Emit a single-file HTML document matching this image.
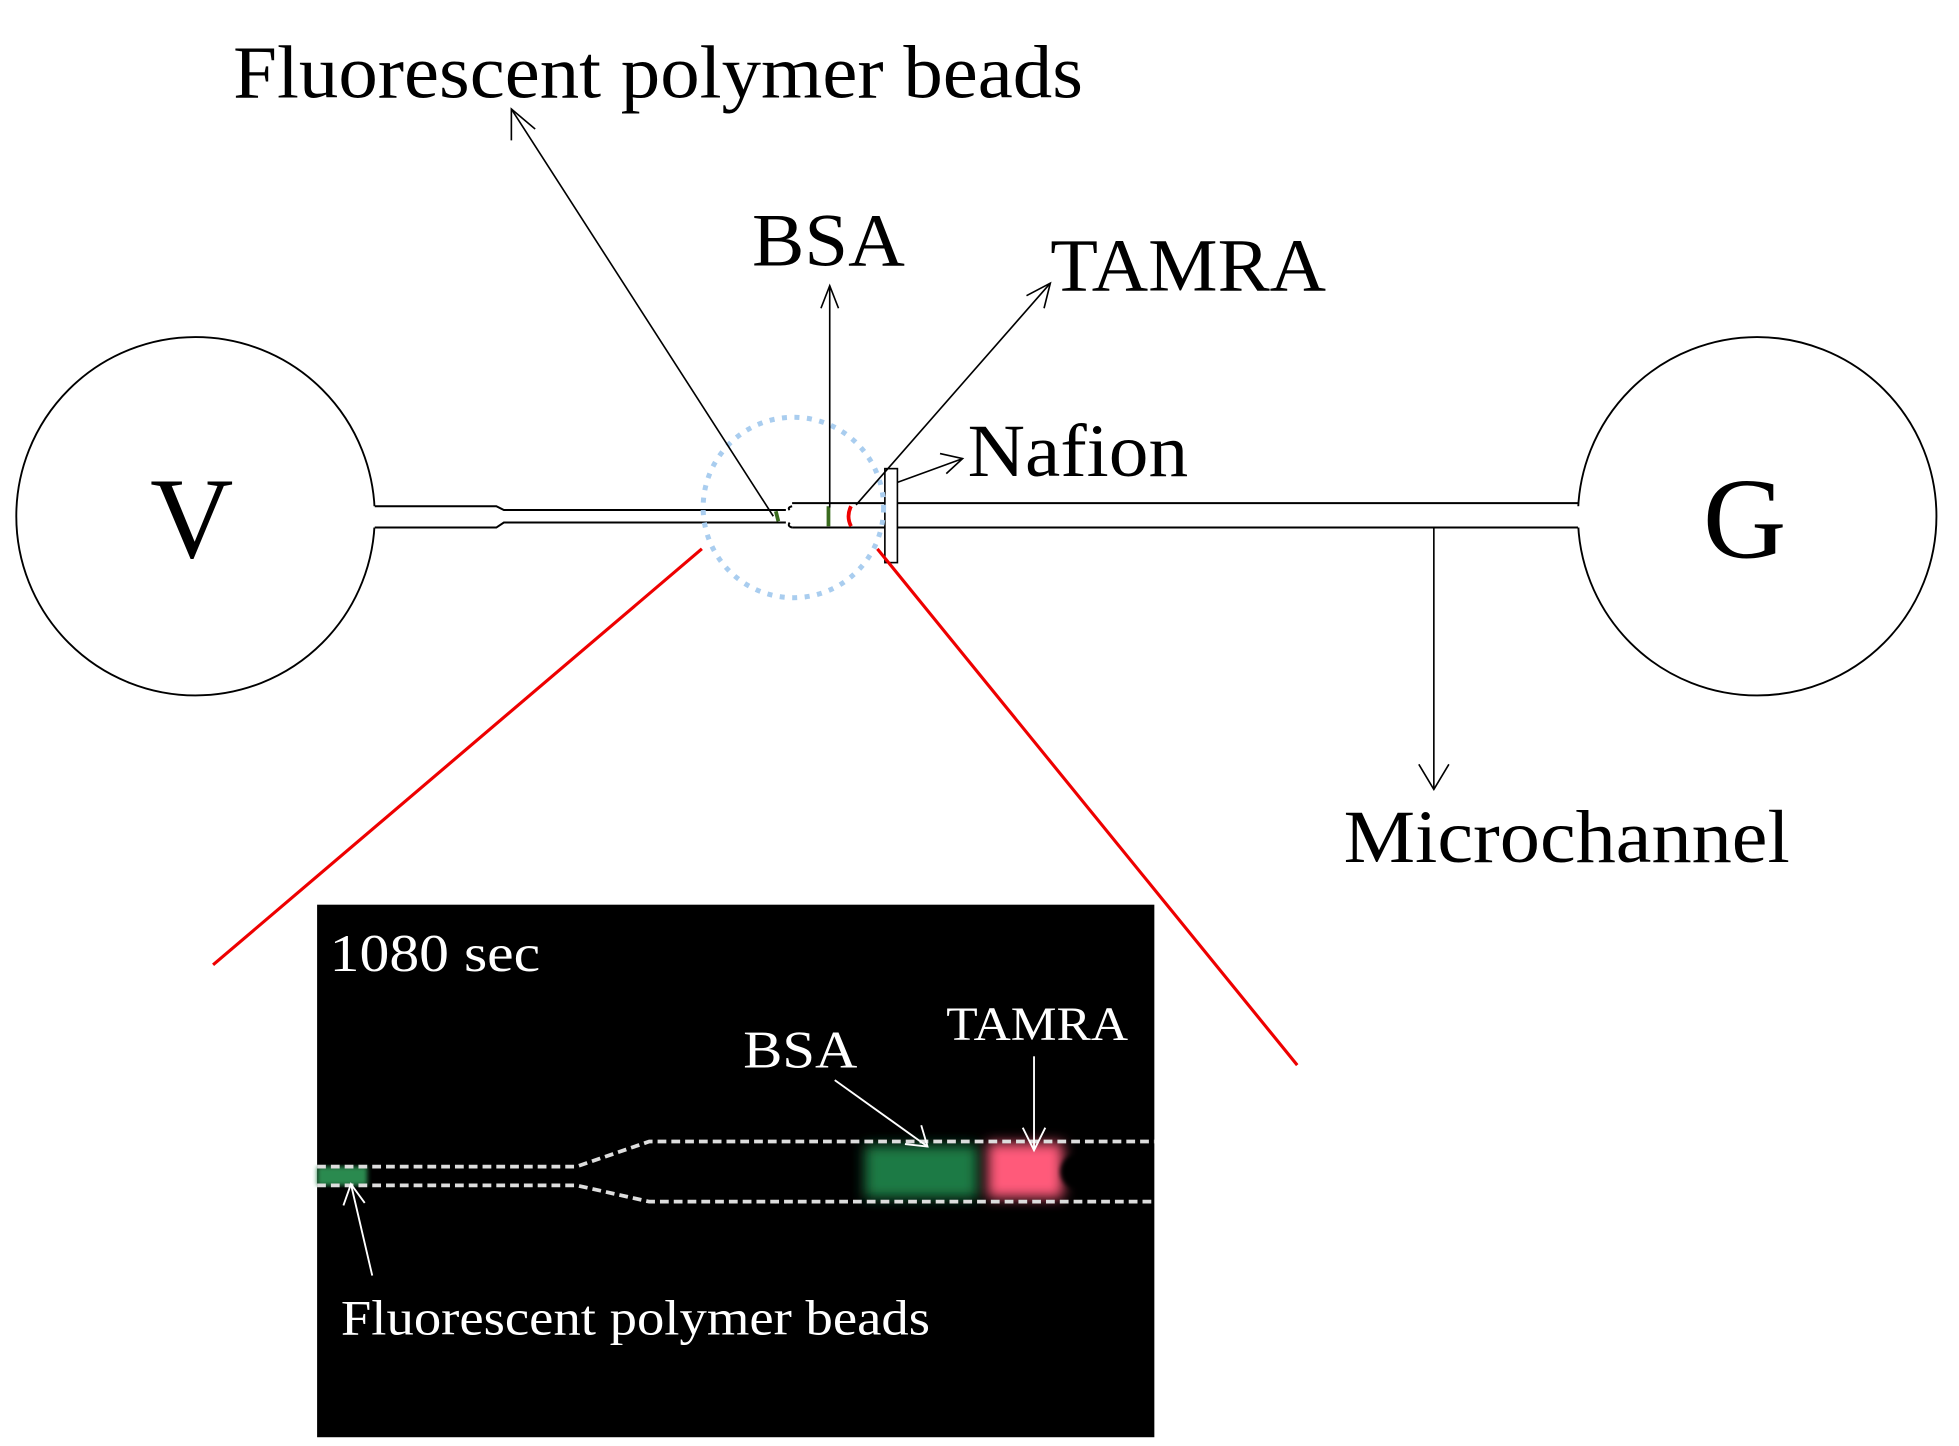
<!DOCTYPE html>
<html><head><meta charset="utf-8"><style>html,body{margin:0;padding:0;background:#fff}svg{display:block}</style></head>
<body>
<svg width="1959" height="1446" viewBox="0 0 1563 1154" preserveAspectRatio="none" xmlns="http://www.w3.org/2000/svg" font-family="Liberation Serif, serif">
<defs>
<filter id="bl" x="-50%" y="-50%" width="200%" height="200%"><feGaussianBlur stdDeviation="5"/></filter>
<filter id="bl2"><feGaussianBlur stdDeviation="2"/></filter>
</defs>
<rect width="1563" height="1154" fill="#fff"/>
<!-- circles -->
<circle cx="156" cy="412" r="143" fill="none" stroke="#000" stroke-width="1.5"/>
<circle cx="1402" cy="412" r="143" fill="none" stroke="#000" stroke-width="1.5"/>
<rect x="295" y="404" width="10" height="17" fill="#fff"/>
<rect x="1254" y="404" width="10" height="17" fill="#fff"/>
<text x="153" y="445" font-size="92" text-anchor="middle">V</text>
<text x="1392" y="445" font-size="92" text-anchor="middle">G</text>
<!-- channel -->
<g stroke="#000" stroke-width="1.6" fill="none">
<path d="M299 404 H396 L402 407 H627"/>
<path d="M299 421 H396 L402 417 H627"/>
<path d="M632 404 Q628 405 630 407"/>
<path d="M632 421 Q628 420 630 417"/>
<path d="M632 401.5 H1259"/>
<path d="M632 421 H1259"/>
<rect x="706" y="374" width="10" height="75" fill="#fff" stroke-width="1.3"/>
</g>
<line x1="619" y1="408" x2="621" y2="416" stroke="#3a6b1e" stroke-width="3"/>
<line x1="661" y1="404" x2="661" y2="420" stroke="#3a6b1e" stroke-width="3"/>
<path d="M679 404 Q675 412 679 420" stroke="#e00" stroke-width="3" fill="none"/>
<!-- dotted circle -->
<circle cx="633" cy="405" r="72" fill="none" stroke="#a9cdef" stroke-width="4" stroke-dasharray="4 6"/>
<!-- red lines -->
<line x1="560" y1="438" x2="170" y2="770" stroke="#e00" stroke-width="2.5"/>
<line x1="700" y1="438" x2="1035" y2="850" stroke="#e00" stroke-width="2.5"/>
<!-- arrows -->
<g stroke="#000" stroke-width="1.3" fill="none">
<line x1="617" y1="412" x2="408" y2="87"/><path d="M408 112 L408 87 L427 103"/>
<line x1="662" y1="405" x2="662" y2="228"/><path d="M655 246 L662 228 L669 246"/>
<line x1="683" y1="403" x2="838" y2="226"/><path d="M819 236 L838 226 L833 246"/>
<line x1="716" y1="385" x2="768" y2="366"/><path d="M750 362 L768 366 L755 378"/>
<line x1="1144" y1="421" x2="1144" y2="630"/><path d="M1132 610 L1144 630 L1156 610"/>
</g>
<text x="186" y="78" font-size="60" textLength="678" lengthAdjust="spacingAndGlyphs">Fluorescent polymer beads</text>
<text x="600" y="212" font-size="60" textLength="122" lengthAdjust="spacingAndGlyphs">BSA</text>
<text x="838" y="232" font-size="60" textLength="220" lengthAdjust="spacingAndGlyphs">TAMRA</text>
<text x="772" y="380" font-size="60" textLength="176" lengthAdjust="spacingAndGlyphs">Nafion</text>
<text x="1072" y="688" font-size="60" textLength="356" lengthAdjust="spacingAndGlyphs">Microchannel</text>
<!-- black box -->
<rect x="253" y="722" width="668" height="425" fill="#000"/>
<rect x="253" y="931" width="40" height="15" fill="#2a8a50" filter="url(#bl2)"/>
<rect x="690" y="914" width="90" height="42" fill="#1f7a45" filter="url(#bl)"/>
<rect x="788" y="912" width="60" height="44" fill="#ff5a7a" filter="url(#bl)"/>
<circle cx="860" cy="935" r="14" fill="#000" filter="url(#bl2)"/>
<g stroke="#ddd" stroke-width="3" fill="none" stroke-dasharray="7 4">
<path d="M253 931 H460 L518 911 H921"/>
<path d="M253 946 H460 L518 959 H921"/>
</g>
<g fill="#fff" font-size="42">
<text x="263" y="775" textLength="168" lengthAdjust="spacingAndGlyphs">1080 sec</text>
<text x="593" y="852" textLength="91" lengthAdjust="spacingAndGlyphs">BSA</text>
<text x="755" y="830" font-size="38" textLength="145" lengthAdjust="spacingAndGlyphs">TAMRA</text>
<text x="272" y="1065" font-size="40" textLength="470" lengthAdjust="spacingAndGlyphs">Fluorescent polymer beads</text>
</g>
<g stroke="#fff" stroke-width="1.5" fill="none">
<line x1="666" y1="862" x2="740" y2="915"/><path d="M735 898 L740 915 L722 913"/>
<line x1="825" y1="843" x2="825" y2="918"/><path d="M816 900 L825 918 L834 900"/>
<line x1="297" y1="1018" x2="280" y2="945"/><path d="M274 962 L280 945 L291 960"/>
</g>
</svg>
</body></html>
